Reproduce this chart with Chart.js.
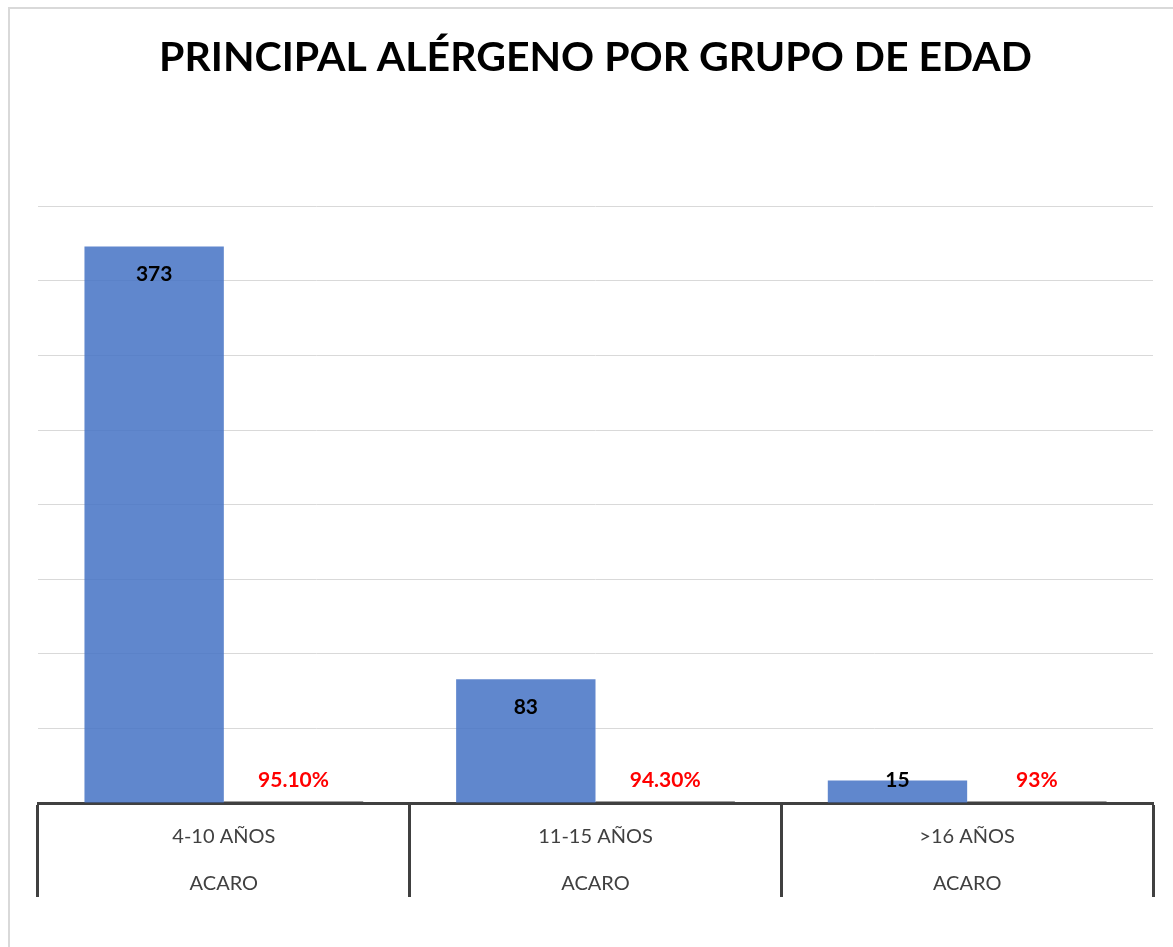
<!DOCTYPE html>
<html lang="es">
<head>
  <meta charset="UTF-8">
  <title>Principal alérgeno por grupo de edad</title>
  <script src="https://cdn.jsdelivr.net/npm/chart.js"></script>
  <style>
    html, body { margin: 0; padding: 0; background: #fff; overflow: hidden; }
    #frame { position: absolute; left: 8px; top: 7px; width: 1300px; height: 1100px; border: 2px solid #d9d9d9; box-sizing: border-box; }
    #wrap { position: absolute; left: 0; top: 0; width: 1173px; height: 947px; }
  </style>
</head>
<body>
  <div id="frame"></div>
  <div id="wrap"><canvas id="chart" width="1173" height="947"></canvas></div>

  <script>
    const ageGroups = ["4-10 AÑOS", "11-15 AÑOS", ">16 AÑOS"];
    const allergens = ["ACARO", "ACARO", "ACARO"];
    const counts = [373, 83, 15];
    const shares = [0.951, 0.943, 0.93];
    const yTicks = [0, 50, 100, 150, 200, 250, 300, 350, 400];

    const FONT = "Lato, 'Open Sans', sans-serif";

    function pctText(v) {
      const p = v * 100;
      if (Math.abs(p - Math.round(p)) < 1e-9) return Math.round(p) + "%";
      return p.toFixed(2) + "%";
    }

    // value labels, placed like Excel's "inside end"
    const valueLabels = {
      id: 'valueLabels',
      afterDatasetsDraw(chart) {
        const ctx = chart.ctx;
        ctx.save();
        ctx.textAlign = 'center';
        ctx.textBaseline = 'middle';
        chart.data.datasets.forEach((ds, di) => {
          const meta = chart.getDatasetMeta(di);
          meta.data.forEach((bar, i) => {
            const y = Math.min(bar.y + 28, bar.base - 22);
            ctx.font = "bold 21px " + FONT;
            ctx.fillStyle = di === 0 ? '#000000' : '#ff0000';
            const txt = di === 0 ? String(ds.data[i]) : pctText(ds.data[i]);
            ctx.fillText(txt, bar.x, y);
          });
        });
        ctx.restore();
      }
    };

    const chart = new Chart(document.getElementById('chart'), {
      type: 'bar',
      data: {
        labels: ageGroups.map((g, i) => [g, allergens[i]]),
        datasets: [
          {
            label: 'Pacientes',
            data: counts,
            backgroundColor: 'rgba(68,114,196,0.85)',
            categoryPercentage: 0.75,
            barPercentage: 1.0
          },
          {
            label: 'Porcentaje',
            data: shares,
            backgroundColor: '#404040',
            categoryPercentage: 0.75,
            barPercentage: 1.0
          }
        ]
      },
      options: {
        responsive: false,
        animation: false,
        layout: { padding: { left: 38, right: 20, top: 0, bottom: 0 } },
        plugins: {
          legend: { display: false },
          tooltip: { enabled: false },
          title: {
            display: true,
            text: 'PRINCIPAL ALÉRGENO POR GRUPO DE EDAD',
            color: '#000000',
            font: { family: FONT, size: 41, weight: 'bold', lineHeight: 1.2 },
            padding: { top: 33, bottom: 124 }
          }
        },
        scales: {
          x: {
            grid: {
              offset: true,
              drawOnChartArea: false,
              drawTicks: true,
              tickLength: 94,
              tickWidth: 3,
              tickColor: '#404040'
            },
            border: { display: true, color: '#404040', width: 3 },
            ticks: {
              padding: -84,
              color: '#404040',
              font: { family: FONT, size: 20, lineHeight: 2.35 },
              maxRotation: 0
            },
            afterFit: s => { s.height = 144; }
          },
          y: {
            min: 0,
            max: yTicks[yTicks.length - 1],
            afterBuildTicks: s => { s.ticks = yTicks.map(v => ({ value: v })); },
            grid: { color: '#d9d9d9', lineWidth: 1, drawTicks: false },
            border: { display: false },
            ticks: { display: false },
            afterFit: s => { s.width = 0; }
          }
        }
      },
      plugins: [valueLabels]
    });
  </script>
</body>
</html>
